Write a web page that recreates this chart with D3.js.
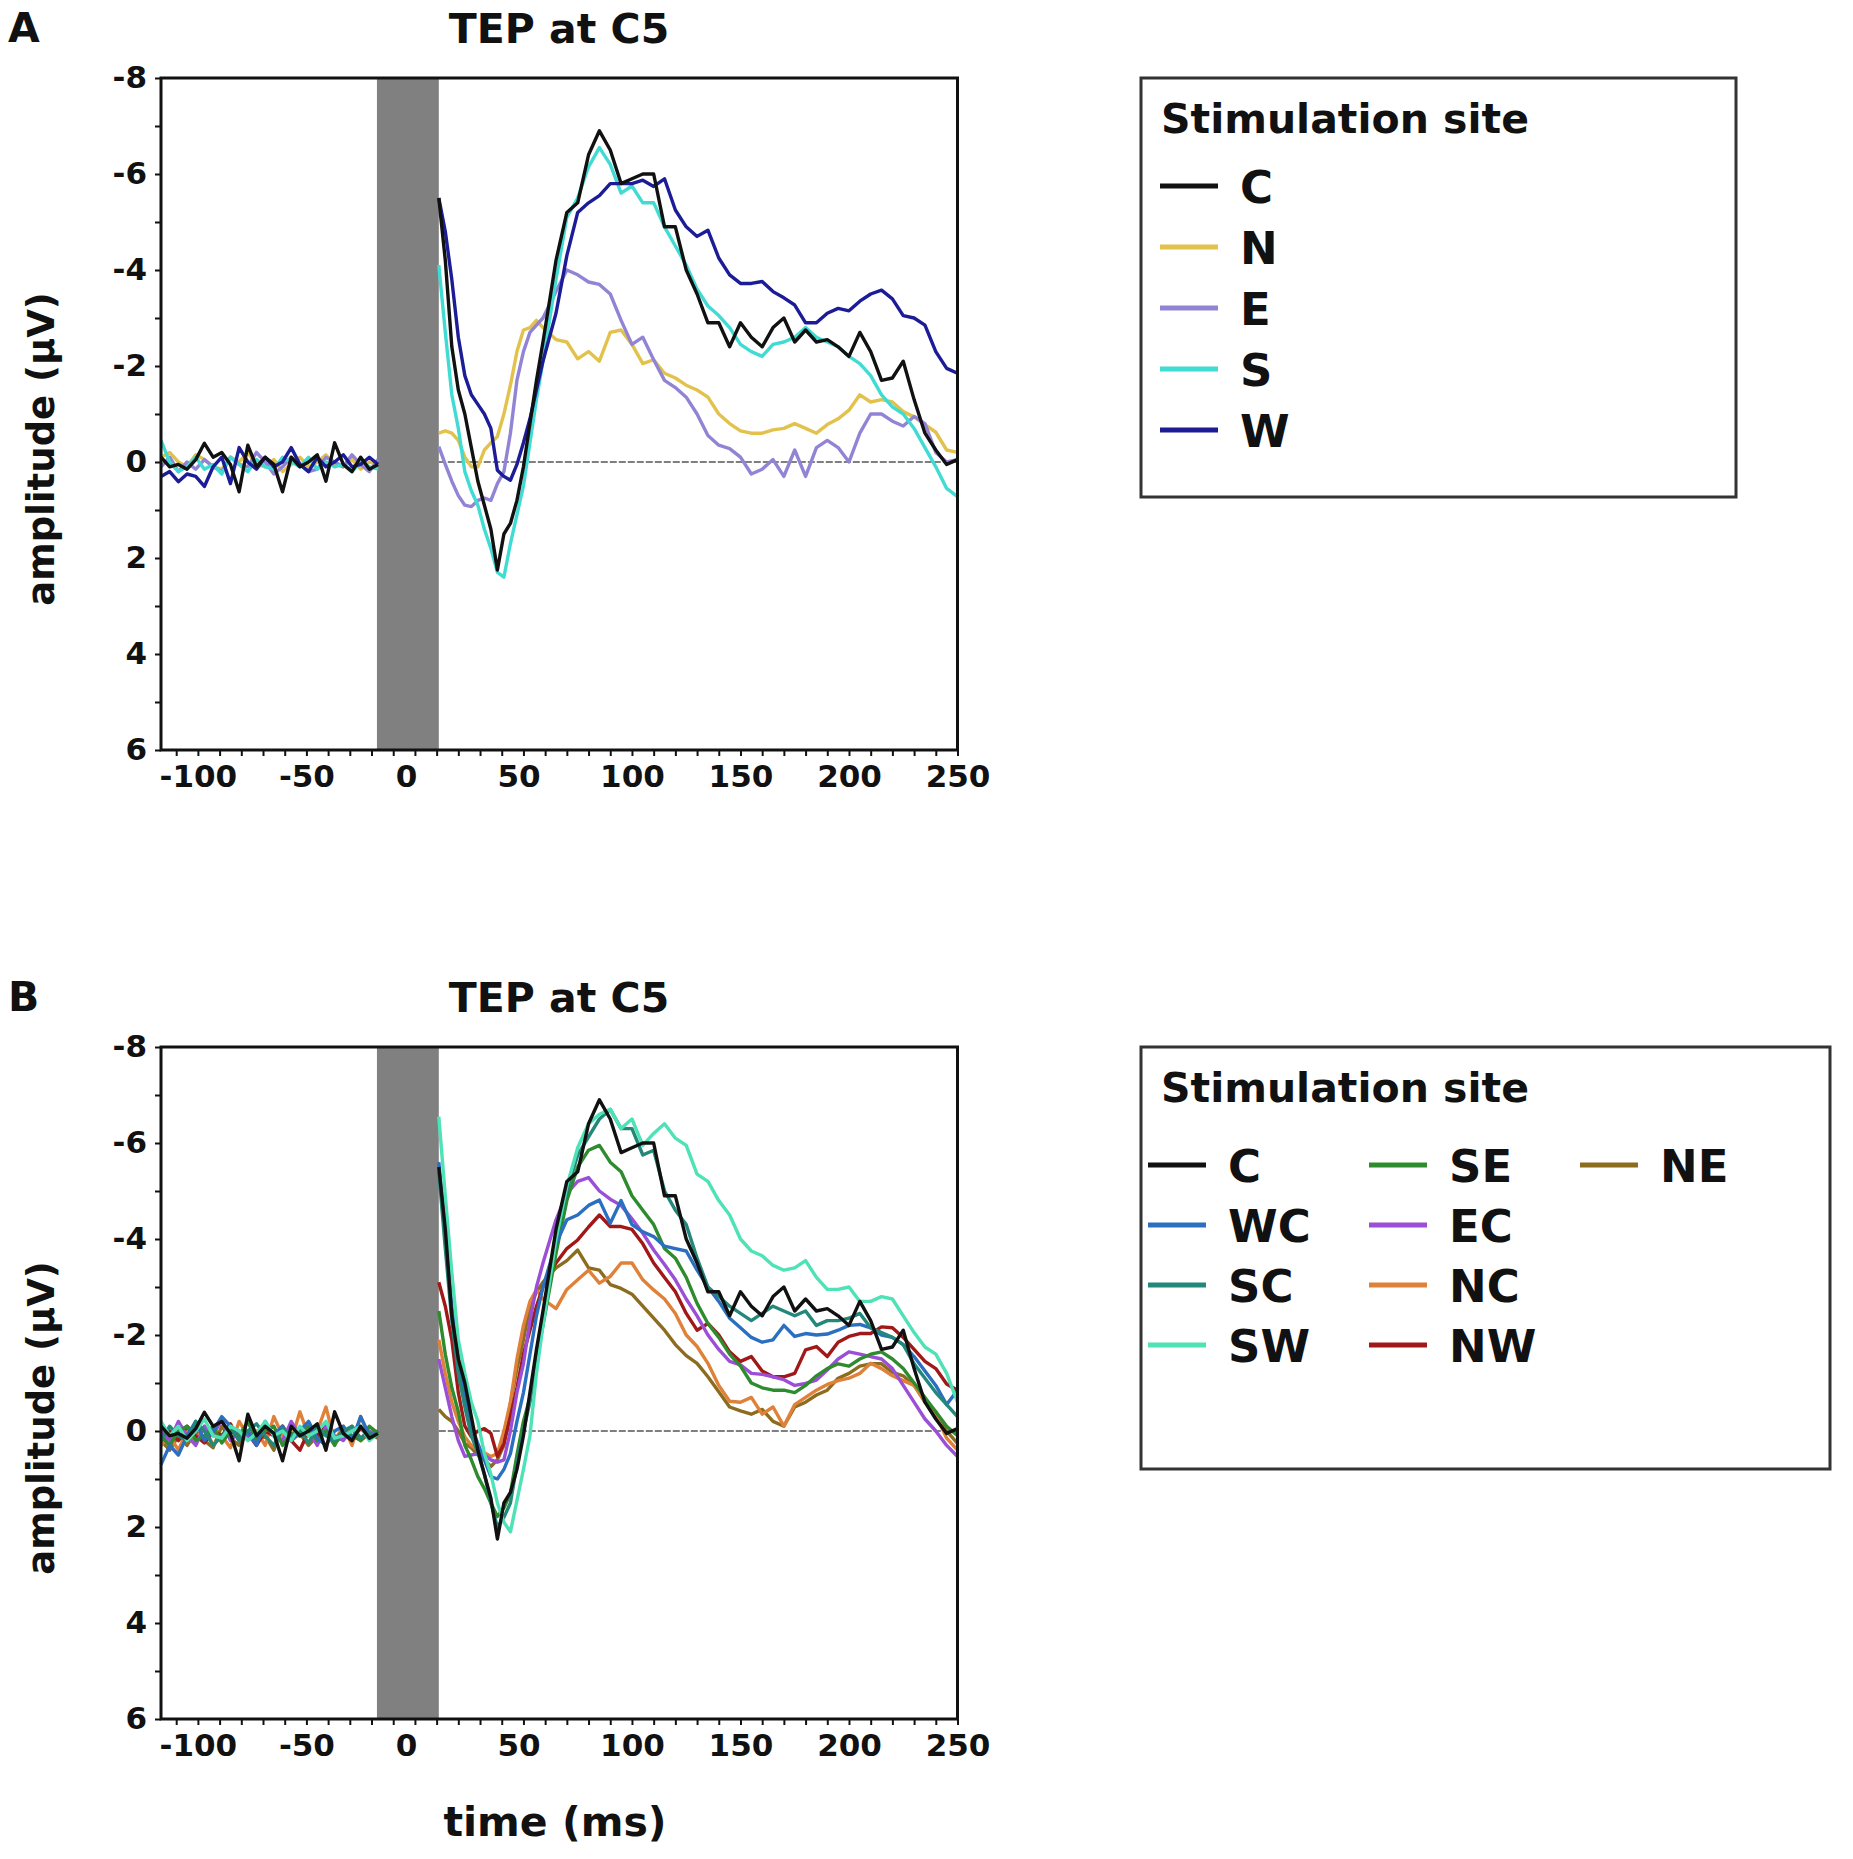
<!DOCTYPE html>
<html>
<head>
<meta charset="utf-8">
<script src="https://cdn.jsdelivr.net/npm/d3@7"></script>
<style>
  body { margin: 0; background: #fff; }
  text { font-family: "DejaVu Sans", sans-serif; font-weight: bold; fill: #111; }
</style>
</head>
<body>
<svg id="chart"></svg>
<script>
const width = 1853;
const height = 1859;

// time grids (ms)
const preTimes = d3.range(-117, -16, 4);   // -117 ... -17
const postTimes = [11, 14, 17, 20, 23, 26, 29, 32, 35, 38, 41, 44, 47, 50, 53, 56, 59,
  65, 70, 75, 80, 85, 90, 95, 100, 105, 110, 115, 120, 125, 130, 135, 140, 145, 150,
  155, 160, 165, 170, 175, 180, 185, 190, 195, 200, 205, 210, 215, 220, 225, 230, 235,
  240, 245, 250];

const pulseStart = -17.5, pulseEnd = 11;

// panel A sites
const sitesA = ["C", "N", "E", "S", "W"];
const colorsA = ["#111111", "#e2c24c", "#9284d4", "#40dcd4", "#1c1c96"];

// panel B sites
const sitesB = ["C", "WC", "SC", "SW", "SE", "EC", "NC", "NW", "NE"];
const colorsB = ["#111111", "#2a6fc0", "#23877a", "#4ee2b6", "#2e8b2e", "#9b4fd6", "#e0813a", "#a01818", "#8c6d1f"];

// pre-stimulus baseline values (µV)
const preC  = [-0.1, 0.1, 0.05, 0.15, -0.05, -0.39, -0.1, -0.2, 0.05, 0.62, -0.35, 0.1, -0.1, 0.05, 0.62, -0.1, 0.1, 0.0, -0.15, 0.4, -0.4, 0.05, 0.2, -0.1, 0.15, 0.05];
const preN  = [-0.1, -0.2, 0.0, 0.1, -0.15, -0.05, 0.1, 0.15, -0.1, 0.0, -0.2, 0.05, 0.1, -0.05, 0.2, 0.05, -0.1, 0.1, 0.0, -0.15, 0.05, 0.1, -0.05, 0.15, 0.0, 0.05];
const preE  = [0.1, -0.1, 0.2, 0.0, 0.15, -0.05, 0.1, 0.2, -0.1, 0.05, 0.1, -0.2, 0.0, 0.25, 0.1, -0.1, 0.05, 0.2, 0.15, -0.1, 0.0, 0.1, -0.15, 0.05, 0.2, -0.05];
const preS  = [-0.45, 0.0, 0.2, 0.1, -0.1, 0.15, 0.05, 0.25, -0.1, 0.05, 0.2, -0.05, 0.1, 0.15, -0.1, 0.0, 0.1, -0.1, 0.15, 0.0, 0.1, 0.05, 0.2, 0.0, 0.1, 0.15];
const preW  = [0.3, 0.2, 0.41, 0.25, 0.3, 0.51, 0.1, -0.1, 0.45, -0.3, 0.0, 0.15, -0.1, 0.1, 0.0, -0.3, 0.05, 0.2, -0.1, 0.1, 0.0, -0.15, 0.1, 0.05, -0.1, 0.05];
const preWC = [0.7, 0.3, 0.5, 0.1, -0.2, 0.2, 0.0, -0.3, -0.1, 0.2, 0.0, 0.3, -0.2, 0.1, -0.1, 0.2, 0.0, -0.2, 0.15, 0.3, 0.0, -0.1, 0.2, -0.3, 0.1, 0.05];
const preSC = [0.2, -0.1, 0.1, 0.2, -0.2, 0.0, 0.3, 0.1, -0.1, 0.2, 0.0, -0.15, 0.1, 0.3, -0.05, 0.1, 0.0, 0.25, -0.1, 0.1, 0.2, 0.0, -0.1, 0.15, 0.05, 0.1];
const preSW = [-0.2, 0.1, -0.1, 0.2, 0.0, -0.25, 0.1, 0.15, -0.1, 0.0, 0.2, 0.05, -0.2, 0.1, 0.0, 0.2, -0.1, 0.1, 0.0, -0.2, 0.15, 0.1, 0.0, -0.1, 0.2, 0.05];
const preSE = [0.1, 0.3, 0.0, -0.1, 0.2, 0.1, -0.1, 0.25, 0.0, 0.1, -0.2, 0.2, 0.0, -0.1, 0.3, 0.05, 0.1, -0.1, 0.2, 0.0, 0.3, -0.05, 0.1, 0.2, -0.1, 0.05];
const preEC = [0.0, 0.2, -0.2, 0.1, 0.3, -0.1, 0.1, -0.25, 0.2, 0.0, 0.1, 0.25, -0.1, 0.05, 0.2, -0.2, 0.1, 0.0, 0.3, -0.1, 0.1, 0.2, -0.05, 0.15, 0.0, 0.1];
const preNC = [0.3, 0.1, 0.4, 0.0, 0.2, -0.1, 0.3, 0.1, 0.35, -0.2, 0.1, 0.0, 0.3, -0.3, 0.1, 0.2, -0.4, 0.1, 0.0, -0.5, 0.2, -0.1, 0.3, -0.3, 0.1, 0.0];
const preNW = [0.1, 0.0, 0.2, -0.1, 0.1, 0.25, 0.0, 0.1, -0.15, 0.2, 0.05, 0.3, 0.0, 0.1, -0.1, 0.2, 0.4, 0.0, 0.1, -0.1, 0.2, 0.0, 0.15, -0.05, 0.1, 0.0];
const preNE = [0.2, 0.4, 0.1, 0.3, 0.0, 0.2, 0.35, -0.1, 0.15, 0.3, 0.0, 0.2, 0.1, 0.4, -0.1, 0.2, 0.05, 0.3, 0.1, 0.0, 0.25, 0.1, -0.1, 0.2, 0.05, 0.15];

// post-stimulus values (µV)
const postC  = [-5.5, -4.2, -2.4, -1.5, -1.0, -0.3, 0.4, 0.9, 1.4, 2.25, 1.5, 1.28, 0.8, 0.1, -0.8, -1.7, -2.5,
  -4.2, -5.2, -5.4, -6.4, -6.9, -6.5, -5.8, -5.9, -6.0, -6.0, -4.9, -4.9, -4.0, -3.5, -2.9, -2.9, -2.4, -2.9,
  -2.6, -2.4, -2.8, -3.0, -2.5, -2.75, -2.5, -2.55, -2.4, -2.2, -2.7, -2.3, -1.7, -1.75, -2.1, -1.3, -0.6,
  -0.25, 0.05, -0.05];
const postN  = [-0.6, -0.65, -0.6, -0.45, -0.1, 0.1, 0.1, -0.25, -0.4, -0.53, -1.0, -1.6, -2.3, -2.75, -2.8, -2.95, -2.8,
  -2.55, -2.5, -2.15, -2.3, -2.1, -2.7, -2.75, -2.45, -2.05, -2.13, -1.85, -1.75, -1.6, -1.5, -1.35, -1.0, -0.8, -0.65,
  -0.6, -0.6, -0.67, -0.7, -0.8, -0.7, -0.6, -0.78, -0.9, -1.08, -1.4, -1.25, -1.3, -1.25, -1.05, -0.94, -0.78,
  -0.62, -0.25, -0.2];
const postE  = [-0.32, 0.05, 0.4, 0.7, 0.9, 0.93, 0.8, 0.75, 0.8, 0.45, 0.2, -0.6, -1.7, -2.3, -2.7, -2.85, -3.0,
  -3.55, -4.0, -3.9, -3.75, -3.7, -3.5, -2.95, -2.45, -2.6, -2.13, -1.7, -1.55, -1.35, -1.0, -0.55, -0.35, -0.28, -0.1,
  0.25, 0.15, -0.05, 0.3, -0.25, 0.3, -0.3, -0.45, -0.3, 0.0, -0.6, -1.0, -1.0, -0.85, -0.75, -0.95, -0.8,
  -0.2, 0.0, -0.05];
const postS  = [-4.1, -2.7, -1.4, -0.7, 0.2, 0.6, 0.9, 1.4, 1.8, 2.3, 2.4, 1.7, 1.1, 0.5, -0.4, -1.3, -2.1,
  -3.8, -5.1, -5.5, -6.15, -6.55, -6.2, -5.6, -5.75, -5.4, -5.4, -4.9, -4.5, -4.1, -3.6, -3.25, -3.05, -2.8, -2.45,
  -2.3, -2.2, -2.45, -2.5, -2.6, -2.8, -2.6, -2.5, -2.4, -2.2, -2.05, -1.8, -1.4, -1.15, -1.0, -0.7, -0.3,
  0.1, 0.55, 0.72];
const postW  = [-5.5, -4.8, -3.8, -2.6, -1.8, -1.4, -1.2, -1.0, -0.7, 0.17, 0.3, 0.38, 0.05, -0.4, -0.9, -1.5, -2.1,
  -3.1, -4.3, -5.2, -5.4, -5.55, -5.8, -5.8, -5.8, -5.87, -5.74, -5.9, -5.25, -4.9, -4.7, -4.83, -4.25, -3.9, -3.72,
  -3.72, -3.76, -3.55, -3.42, -3.27, -2.9, -2.9, -3.1, -3.2, -3.15, -3.35, -3.5, -3.58, -3.4, -3.05, -3.0, -2.85,
  -2.3, -1.95, -1.85];
const postWC = [-5.6, -4.2, -2.6, -1.5, -0.7, -0.1, 0.26, 0.6, 0.95, 1.0, 0.8, 0.47, -0.2, -0.8, -1.6, -2.4, -3.0,
  -3.9, -4.4, -4.5, -4.7, -4.81, -4.33, -4.8, -4.3, -4.15, -4.05, -3.85, -3.8, -3.75, -3.35, -3.0, -2.7, -2.35, -2.15,
  -1.95, -1.85, -1.9, -2.2, -1.97, -2.03, -2.0, -2.02, -2.1, -2.2, -2.22, -2.15, -2.0, -1.95, -1.8, -1.55, -1.25,
  -0.95, -0.55, -0.85];
const postSC = [-5.4, -3.8, -2.3, -1.2, -0.5, 0.1, 0.45, 0.9, 1.5, 2.0, 1.8, 1.5, 0.7, 0.0, -0.6, -1.5, -2.3,
  -4.0, -5.0, -5.75, -6.13, -6.5, -6.7, -6.3, -6.3, -5.75, -5.85, -5.0, -4.6, -4.3, -3.6, -3.0, -2.8, -2.6, -2.45,
  -2.3, -2.45, -2.6, -2.5, -2.4, -2.5, -2.2, -2.3, -2.3, -2.35, -2.45, -2.15, -2.05, -1.95, -1.8, -1.4, -1.1,
  -0.8, -0.55, -0.3];
const postSW = [-6.55, -4.9, -3.3, -1.9, -1.2, -0.6, -0.2, 0.47, 0.9, 1.5, 1.9, 2.1, 1.45, 0.8, 0.1, -1.2, -2.2,
  -4.0, -5.1, -5.9, -6.4, -6.6, -6.7, -6.3, -6.5, -5.95, -6.2, -6.4, -6.1, -5.95, -5.35, -5.2, -4.8, -4.5, -4.0,
  -3.75, -3.65, -3.45, -3.35, -3.4, -3.55, -3.2, -2.95, -2.95, -3.0, -2.7, -2.7, -2.8, -2.75, -2.4, -2.05, -1.75,
  -1.6, -1.2, -0.6];
const postSE = [-2.5, -1.6, -0.9, -0.4, 0.3, 0.6, 0.95, 1.2, 1.5, 1.78, 1.6, 1.3, 0.5, -0.2, -0.7, -1.5, -2.2,
  -3.7, -4.8, -5.5, -5.85, -5.95, -5.6, -5.4, -4.9, -4.6, -4.3, -3.8, -3.6, -3.2, -2.66, -2.24, -1.95, -1.6, -1.35,
  -1.0, -0.9, -0.85, -0.85, -0.8, -0.95, -1.15, -1.3, -1.4, -1.35, -1.5, -1.6, -1.65, -1.5, -1.3, -1.0, -0.7,
  -0.4, -0.1, 0.1];
const postEC = [-1.5, -0.9, -0.3, 0.2, 0.53, 0.5, 0.47, 0.5, 0.6, 0.65, 0.6, 0.0, -0.8, -1.4, -2.3, -3.0, -3.5,
  -4.4, -4.95, -5.2, -5.28, -5.0, -4.83, -4.7, -4.42, -4.12, -3.77, -3.47, -3.15, -2.75, -2.4, -2.0, -1.7, -1.45, -1.38,
  -1.2, -1.18, -1.13, -1.07, -0.95, -0.99, -1.06, -1.27, -1.5, -1.65, -1.6, -1.55, -1.5, -1.3, -0.95, -0.6, -0.25,
  0.0, 0.3, 0.53];
const postNC = [-1.9, -1.2, -0.6, -0.2, 0.12, 0.3, 0.4, 0.45, 0.53, 0.47, 0.0, -0.6, -1.5, -2.2, -2.7, -2.94, -2.75,
  -2.55, -2.95, -3.15, -3.35, -3.08, -3.22, -3.5, -3.5, -3.15, -2.94, -2.75, -2.45, -2.0, -1.76, -1.41, -0.95, -0.62, -0.6,
  -0.7, -0.35, -0.5, -0.1, -0.55, -0.7, -0.85, -0.97, -1.05, -1.1, -1.2, -1.41, -1.3, -1.15, -1.05, -0.95, -0.62,
  -0.35, 0.15, 0.4];
const postNW = [-3.1, -2.6, -1.9, -0.8, -0.1, 0.12, 0.0, -0.05, 0.05, 0.53, 0.26, -0.3, -0.9, -1.6, -2.1, -2.6, -3.0,
  -3.5, -3.8, -3.98, -4.25, -4.5, -4.26, -4.26, -4.2, -3.9, -3.5, -3.2, -2.9, -2.45, -2.1, -2.24, -2.0, -1.65, -1.45,
  -1.55, -1.25, -1.13, -1.13, -1.2, -1.69, -1.76, -1.55, -1.85, -1.97, -2.03, -2.03, -2.17, -2.15, -1.95, -1.7, -1.45,
  -1.3, -0.98, -0.85];
const postNE = [-0.45, -0.3, -0.2, 0.0, 0.26, 0.35, 0.5, 0.6, 0.74, 0.6, 0.3, -0.58, -1.3, -1.9, -2.6, -2.9, -3.1,
  -3.4, -3.55, -3.77, -3.4, -3.35, -3.05, -2.97, -2.85, -2.6, -2.35, -2.1, -1.8, -1.57, -1.41, -1.13, -0.82, -0.5, -0.42,
  -0.35, -0.45, -0.2, -0.1, -0.5, -0.6, -0.75, -0.85, -1.1, -1.2, -1.35, -1.4, -1.4, -1.22, -1.15, -0.95, -0.6,
  -0.4, 0.0, 0.26];

const preA  = { C: preC, N: preN, E: preE, S: preS, W: preW };
const postA = { C: postC, N: postN, E: postE, S: postS, W: postW };
const preB  = { C: preC, WC: preWC, SC: preSC, SW: preSW, SE: preSE, EC: preEC, NC: preNC, NW: preNW, NE: preNE };
const postB = { C: postC, WC: postWC, SC: postSC, SW: postSW, SE: postSE, EC: postEC, NC: postNC, NW: postNW, NE: postNE };

const svg = d3.select("#chart").attr("width", width).attr("height", height);

const plotLeft = 161, plotRight = 957.5, plotH = 672;
const x = d3.scaleLinear().domain([-117, 250]).range([plotLeft, plotRight]);

function drawPanel(top, letter, sites, colors, pre, post, drawOrder) {
  const y = d3.scaleLinear().domain([-8, 6]).range([top, top + plotH]);
  const g = svg.append("g");

  // stimulation artefact band
  g.append("rect")
    .attr("x", x(pulseStart)).attr("y", top)
    .attr("width", x(pulseEnd) - x(pulseStart)).attr("height", plotH)
    .attr("fill", "#808080");

  // zero line
  g.append("line")
    .attr("x1", x(pulseEnd)).attr("x2", plotRight)
    .attr("y1", y(0)).attr("y2", y(0))
    .attr("stroke", "#555").attr("stroke-width", 1.5)
    .attr("stroke-dasharray", "7,2");

  const line = d3.line().x(d => x(d[0])).y(d => y(d[1]));

  drawOrder.forEach(site => {
    const c = colors[sites.indexOf(site)];
    const segs = [
      preTimes.map((t, i) => [t, pre[site][i]]),
      postTimes.map((t, i) => [t, post[site][i]])
    ];
    segs.forEach(s => {
      g.append("path")
        .attr("d", line(s))
        .attr("fill", "none")
        .attr("stroke", c)
        .attr("stroke-width", 3.4)
        .attr("stroke-linejoin", "round");
    });
  });

  // axes
  const yAxis = d3.axisLeft(y)
    .tickValues(d3.range(-8, 7, 1))
    .tickFormat(d => d % 2 === 0 ? String(d) : "")
    .tickSize(6).tickPadding(8);
  const xAxis = d3.axisBottom(x)
    .tickValues(d3.range(-110, 251, 10))
    .tickFormat(d => d % 50 === 0 ? String(d) : "")
    .tickSize(6).tickPadding(9);

  const ya = g.append("g").attr("transform", `translate(${plotLeft},0)`).call(yAxis);
  const xa = g.append("g").attr("transform", `translate(0,${top + plotH})`).call(xAxis);
  [ya, xa].forEach(a => {
    a.select(".domain").remove();
    a.selectAll(".tick line").attr("stroke", "#111").attr("stroke-width", 2);
    a.selectAll("text").style("font-size", "31px").attr("fill", "#111");
  });
  // the 0 and 50 labels sit slightly left of their ticks in the original
  xa.selectAll(".tick text").filter(d => d === 0).attr("dx", -9);
  xa.selectAll(".tick text").filter(d => d === 50).attr("dx", -5);

  // frame
  g.append("rect")
    .attr("x", plotLeft).attr("y", top)
    .attr("width", plotRight - plotLeft).attr("height", plotH)
    .attr("fill", "none").attr("stroke", "#111").attr("stroke-width", 3);

  // titles
  g.append("text").attr("x", 8).attr("y", top - 36)
    .style("font-size", "41px").text(letter);
  g.append("text").attr("x", 559).attr("y", top - 35)
    .attr("text-anchor", "middle").style("font-size", "41px").text("TEP at C5");
  g.append("text")
    .attr("transform", `translate(54,${top + plotH / 2 + 35}) rotate(-90)`)
    .attr("text-anchor", "middle").style("font-size", "37px").text("amplitude (µV)");
}

drawPanel(78, "A", sitesA, colorsA, preA, postA, ["N", "E", "S", "W", "C"]);
drawPanel(1047, "B", sitesB, colorsB, preB, postB, ["NE", "NC", "NW", "EC", "SE", "WC", "SC", "SW", "C"]);

svg.append("text").attr("x", 555).attr("y", 1836)
  .attr("text-anchor", "middle").style("font-size", "41px").text("time (ms)");

// legends
function legend(box, items, colors, rows, colX, rowY0, rowStep) {
  const g = svg.append("g");
  g.append("rect")
    .attr("x", box[0]).attr("y", box[1]).attr("width", box[2]).attr("height", box[3])
    .attr("fill", "none").attr("stroke", "#333").attr("stroke-width", 3);
  g.append("text").attr("x", box[0] + 20).attr("y", box[1] + 55)
    .style("font-size", "41px").text("Stimulation site");
  items.forEach((name, i) => {
    const col = Math.floor(i / rows), row = i % rows;
    const cy = rowY0 + row * rowStep;
    const cx = colX[col];
    g.append("line")
      .attr("x1", cx).attr("x2", cx + 58).attr("y1", cy).attr("y2", cy)
      .attr("stroke", colors[i]).attr("stroke-width", 5);
    g.append("text")
      .attr("x", cx + 80).attr("y", cy + 17)
      .style("font-size", "45px").text(name);
  });
}

legend([1141, 78, 595, 419], sitesA, colorsA, 5, [1160], 186, 61);
legend([1141, 1047, 689, 422], sitesB, colorsB, 4, [1148, 1369, 1580], 1165, 60);
</script>
</body>
</html>
